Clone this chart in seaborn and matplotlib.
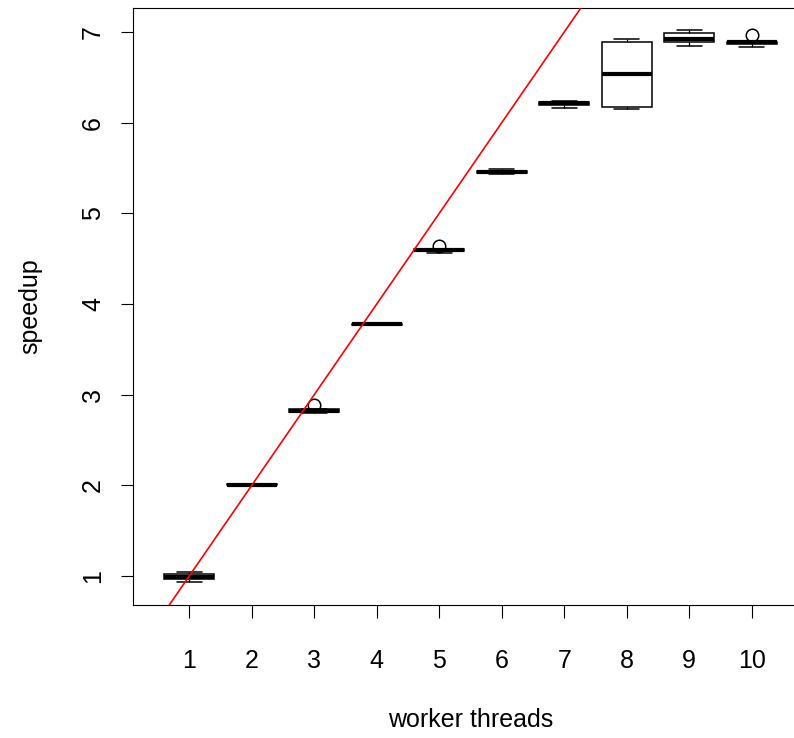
import numpy as np
import pandas as pd
import matplotlib
matplotlib.use("Agg")
import matplotlib.pyplot as plt
import seaborn as sns

threads = [1, 2, 3, 4, 5, 6, 7, 8, 9, 10]
speedup_runs = [
    [0.930, 0.972, 0.993, 1.022, 1.045],
    [1.995, 2.000, 2.005, 2.010, 2.015],
    [2.800, 2.812, 2.823, 2.840, 2.890],
    [3.765, 3.772, 3.777, 3.782, 3.788],
    [4.565, 4.585, 4.597, 4.605, 4.645],
    [5.430, 5.440, 5.452, 5.462, 5.490],
    [6.165, 6.198, 6.215, 6.228, 6.235],
    [6.147, 6.176, 6.533, 6.893, 6.923],
    [6.849, 6.893, 6.925, 6.985, 7.022],
    [6.833, 6.868, 6.886, 6.895, 6.965],
]
x_ticks = [1, 2, 3, 4, 5, 6, 7, 8, 9, 10]
y_ticks = [1, 2, 3, 4, 5, 6, 7]

rows = []
for t, runs in zip(threads, speedup_runs):
    for v in runs:
        rows.append({"worker threads": t, "speedup": v})
df = pd.DataFrame(rows)

sns.set_theme(style="ticks")
plt.rcParams["font.family"] = ["Liberation Sans", "DejaVu Sans"]
plt.rcParams["text.color"] = "black"
plt.rcParams["axes.labelcolor"] = "black"
plt.rcParams["xtick.color"] = "black"
plt.rcParams["ytick.color"] = "black"

W, H = 794, 738
fig = plt.figure(figsize=(W / 100, H / 100), dpi=100)
left, right, top, bottom = 133, 808, 8, 605
ax = fig.add_axes([left / W, 1 - bottom / H, (right - left) / W, (bottom - top) / H])

sns.boxplot(
    data=df, x="worker threads", y="speedup", native_scale=True, ax=ax,
    width=0.8, color="white", linecolor="black", linewidth=1.1,
    saturation=1, whis=1.5,
    medianprops={"linewidth": 3.0, "color": "black", "solid_capstyle": "butt"},
    whiskerprops={"linestyle": "--", "linewidth": 0.9},
    capprops={"linewidth": 1.1},
    boxprops={"linewidth": 1.1},
    flierprops={"marker": "o", "markersize": 9, "markerfacecolor": "none",
                "markeredgecolor": "black", "markeredgewidth": 1.1},
)

ax.axline((1, 1), slope=1, color="red", linewidth=1.2, zorder=5)

ax.set_xlim(0.1, 10.9)
ax.set_ylim(0.68, 7.265)
ax.set_xticks(x_ticks)
ax.set_xticklabels([str(v) for v in x_ticks])
ax.set_yticks(y_ticks)
ax.set_yticklabels([str(v) for v in y_ticks], rotation=90, va="center")

for s in ax.spines.values():
    s.set_visible(True)
    s.set_color("black")
    s.set_linewidth(0.8)

ax.tick_params(axis="both", direction="out", length=9, width=0.8, colors="black",
               labelsize=18, labelcolor="black")
ax.tick_params(axis="x", pad=23)
ax.tick_params(axis="y", pad=11)

ax.set_xlabel("worker threads", fontsize=18, color="black")
ax.set_ylabel("speedup", fontsize=18, color="black")
ax.xaxis.set_label_coords(0.5, (bottom - 720) / (bottom - top))
ax.xaxis.label.set_va("center")
ax.yaxis.set_label_coords((30 - left) / (right - left), 0.5)
ax.yaxis.label.set_va("center")
ax.grid(False)

fig.savefig("out.png", dpi=100)
